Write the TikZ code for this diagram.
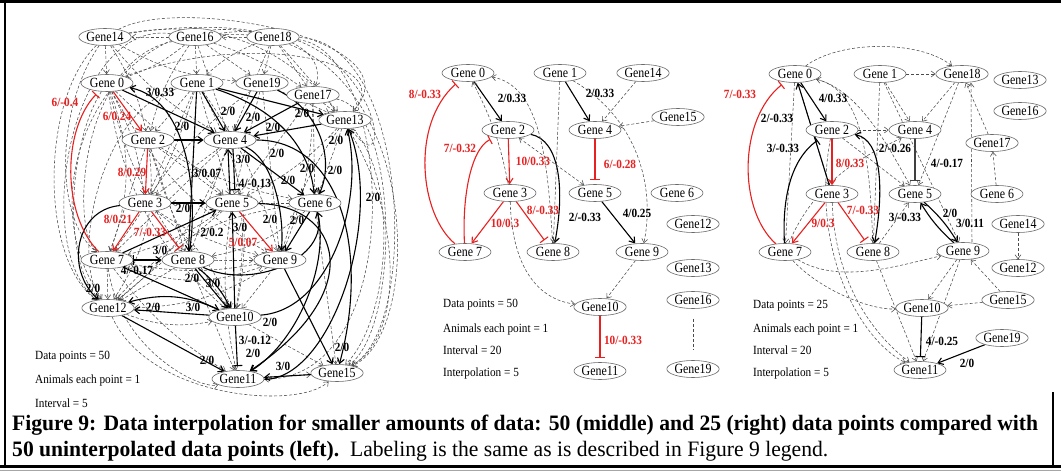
\documentclass[tikz,border=0pt]{standalone}
\usepackage{fontspec}
\setmainfont{Liberation Serif}
\newfontfamily\narrowserif[FakeStretch=0.9]{Liberation Serif}
\newfontfamily\genefont[FakeStretch=0.85]{Liberation Serif}
\usetikzlibrary{shapes.geometric,arrows.meta}
\definecolor{edgered}{RGB}{232,32,32}
\definecolor{ringgray}{RGB}{105,105,105}
\definecolor{dashgray}{RGB}{75,75,75}
\pgfdeclarelayer{bg}
\pgfdeclarelayer{edges}
\pgfsetlayers{bg,edges,main}
\newsavebox\caplinebox
\newdimen\capwd
\newcounter{lblc}
% gene node: name, x, y, text
\newcommand\gn[4]{\node[gene] (#1) at (#2,#3) {#4};}
% edge weight labels (black / red)
\newcommand\elab[3]{\stepcounter{lblc}\node[lbl] (lab\arabic{lblc}) at (#1,#2) {#3};}
\newcommand\rlab[3]{\stepcounter{lblc}\node[lbl,text=edgered] (lab\arabic{lblc}) at (#1,#2) {#3};}
\newcommand\captext{Figure 9: Data interpolation for smaller amounts of data: 50 (middle) and 25 (right) data points compared with}
\begin{document}
\sbox\caplinebox{\fontsize{22}{26}\selectfont\bfseries\captext}%
\capwd=\wd\caplinebox
\pgfmathsetmacro\capsx{1026/\the\capwd}%
\begin{tikzpicture}[x=1pt,y=-1pt,
  gene/.style={ellipse,draw=ringgray,fill=white,line width=0.6pt,minimum width=52pt,minimum height=17pt,inner sep=0pt,font=\genefont\fontsize{14}{15}\selectfont},
  act/.style={draw=black,line width=1.1pt,-{Straight Barb[length=5pt,width=7pt]}},
  act2/.style={draw=black,line width=1.1pt,{Straight Barb[length=5pt,width=7pt]}-{Straight Barb[length=5pt,width=7pt]}},
  baract/.style={draw=black,line width=1.1pt,{Bar[width=10pt]}-{Straight Barb[length=5pt,width=7pt]}},
  inh/.style={draw=black,line width=1.1pt,-{Bar[width=10pt]},shorten >=4pt},
  ract/.style={draw=edgered,line width=1.1pt,-{Straight Barb[length=5pt,width=7pt]}},
  rinh/.style={draw=edgered,line width=1.1pt,-{Bar[width=10pt]},shorten >=4pt},
  dsh/.style={draw=dashgray,line width=0.55pt,dash pattern=on 3pt off 2pt,-{Straight Barb[length=4pt,width=6pt]}},
  dsh2/.style={draw=dashgray,line width=0.55pt,dash pattern=on 3pt off 2pt,{Straight Barb[length=4pt,width=6pt]}-{Straight Barb[length=4pt,width=6pt]}},
  lbl/.style={font=\narrowserif\fontsize{12.5}{13}\selectfont\bfseries,inner sep=0pt},
  legend/.style={font=\narrowserif\fontsize{12.5}{13}\selectfont,anchor=west,inner sep=0pt}]

\useasboundingbox (0,0) rectangle (1061,473);
\begin{pgfonlayer}{bg}
\fill[white] (0,0) rectangle (1061,473);
\end{pgfonlayer}

% frame
\draw[line width=3pt] (0,2) -- (1061,2);
\draw[line width=1.2pt] (5,2) -- (5,466);
\draw[line width=1.2pt] (1053,392) -- (1053,466);
\draw[line width=3pt] (0,466) -- (1061,466);
\draw[line width=1pt,black!35] (0,470.5) -- (1061,470.5);

% ---------------- left network ----------------
\gn{L14}{105}{37}{Gene14}
\gn{L16}{195}{37}{Gene16}
\gn{L18}{273}{37}{Gene18}
\gn{L0}{107}{83}{Gene 0}
\gn{L1}{197}{83}{Gene 1}
\gn{L19}{262}{83}{Gene19}
\gn{L17}{313}{95}{Gene17}
\gn{L13}{345}{120}{Gene13}
\gn{L2}{148}{140}{Gene 2}
\gn{L4}{230}{140}{Gene 4}
\gn{L3}{145}{203}{Gene 3}
\gn{L5}{232}{203}{Gene 5}
\gn{L6}{315}{203}{Gene 6}
\gn{L7}{107}{260}{Gene 7}
\gn{L8}{188}{260}{Gene 8}
\gn{L9}{280}{260}{Gene 9}
\gn{L12}{108}{308}{Gene12}
\gn{L10}{235}{317}{Gene10}
\gn{L11}{238}{379}{Gene11}
\gn{L15}{337}{373}{Gene15}

\begin{pgfonlayer}{edges}
\foreach \a/\b/\c in {L14/L0/0, L16/L14/0, L16/L0/10, L16/L1/0, L18/L16/0, L18/L19/0, L18/L17/0,
  L14/L2/10, L16/L2/-10, L16/L4/0, L14/L4/-10, L18/L1/-10, L18/L4/0, L14/L19/-12, L16/L19/0,
  L16/L17/8, L18/L13/0, L0/L3/10, L0/L7/20, L0/L5/0, L0/L8/-10, L1/L2/0, L1/L3/0, L1/L5/0,
  L1/L7/10, L2/L7/0, L2/L5/0, L2/L8/0, L2/L6/-10, L2/L12/20, L2/L10/-10, L4/L3/0, L4/L7/0,
  L4/L8/0, L4/L12/15, L5/L3/0, L5/L7/10, L5/L12/0, L5/L11/-10, L6/L5/0, L6/L8/15, L6/L15/0,
  L7/L12/0, L7/L9/-20, L7/L11/-10, L8/L9/0, L8/L12/0, L8/L11/0, L9/L10/0, L9/L12/15, L9/L7/10,
  L10/L15/0, L11/L15/0, L12/L10/-15, L13/L6/0, L13/L9/-10, L17/L13/0, L17/L6/0, L17/L5/0,
  L19/L5/0, L19/L13/0, L19/L9/0, L3/L9/-10, L3/L10/15, L4/L10/10, L0/L10/-20, L1/L10/20,
  L6/L12/-20, L13/L5/10, L17/L9/10, L19/L3/-10, L0/L9/-15, L1/L9/10}
  {\draw[dsh] (\a) to[bend left=\c] (\b);}
% long dashed arcs round the outside
\draw[dsh] (L14) .. controls (180,-5) and (420,40) .. (L13);
\draw[dsh] (L16) .. controls (420,20) and (430,330) .. (L15);
\draw[dsh] (L14) .. controls (380,-10) and (440,320) .. (L15);
\draw[dsh] (L18) .. controls (410,40) and (420,330) .. (L15);
\draw[dsh] (L17) .. controls (400,110) and (400,330) .. (L15);
\draw[dsh] (L13) .. controls (400,180) and (390,320) .. (L15);
\draw[dsh] (L18) .. controls (395,50) and (410,380) .. (L11);
\draw[dsh] (L16) .. controls (380,10) and (400,200) .. (L13);
\draw[dsh] (L14) .. controls (250,15) and (330,40) .. (L17);
\draw[dsh] (L0) .. controls (250,30) and (400,60) .. (L13);
\draw[dsh] (L14) .. controls (40,100) and (40,260) .. (L12);
\draw[dsh] (L16) .. controls (70,20) and (30,250) .. (L12);
\draw[dsh] (L18) .. controls (120,5) and (20,180) .. (L12);
\draw[dsh] (L14) .. controls (55,110) and (55,220) .. (L7);
\draw[dsh] (L0) .. controls (70,140) and (60,260) .. (L12);
\draw[dsh] (L1) .. controls (100,110) and (70,260) .. (L12);
\draw[dsh] (L16) .. controls (80,60) and (70,230) .. (L7);
\draw[dsh] (L12) .. controls (150,400) and (300,410) .. (L15);
\draw[dsh] (L7) .. controls (120,350) and (200,390) .. (L11);

% solid regulations
\draw[act] (L8) .. controls (198,200) and (190,100) .. (L0);
\draw[act] (L0) -- (L4);
\draw[act] (L1) -- (L4);
\draw[act] (L19) -- (L4);
\draw[act] (L17) -- (L4);
\draw[act] (L1) -- (L13);
\draw[act] (L13) -- (L4);
\draw[act] (L1) .. controls (280,110) and (310,150) .. (L6);
\draw[act] (L19) .. controls (320,110) and (335,160) .. (L6);
\draw[act] (L4) -- (L6);
\draw[act] (L4) .. controls (275,160) and (285,220) .. (L9);
\draw[act] ([xshift=-2pt]L5.north) -- ([xshift=-2pt]L4.south);
\draw[inh] ([xshift=3pt]L4.south) -- ([xshift=3pt]L5.north);
\draw[act] (L1) -- (L8);
\draw[act] (L2) -- (L4);
\draw[act] (L3) -- (L5);
\draw[act] (L7) -- (L5);
\draw[baract] (L7) -- (L8);
\draw[act] (L3) .. controls (75,210) and (65,270) .. (L12);
\draw[act] (L10) -- (L12);
\draw[act] (L10) to[bend right=20] (L12);
\draw[act] (L12) -- (L11);
\draw[inh] (L10) -- (L11);
\draw[act] (L8) -- (L10);
\draw[act] (L8) to[bend left=12] (L10);
\draw[act] (L7) -- (L10);
\draw[act] (L9) -- (L15);
\draw[act] (L15) -- (L11);
\draw[act] (L10) .. controls (330,310) and (365,200) .. (L13);
\draw[act] (L11) .. controls (330,380) and (385,220) .. (L13);
\draw[act] (L5) .. controls (340,205) and (370,290) .. (L11);
\draw[act] (L6) .. controls (330,260) and (300,340) .. (L11);
\draw[act] (L4) .. controls (340,140) and (370,250) .. (L15);
\draw[act] (L6) -- (L9);
\draw[act] (L10) -- (L5);
\draw[act] (L8) .. controls (250,290) and (330,260) .. (L6);
\draw[rinh] (L7) .. controls (62,215) and (62,130) .. (L0);
\draw[ract] (L0) -- (L2);
\draw[ract] (L2) -- (L3);
\draw[ract] (L3) -- (L7);
\draw[rinh] (L3) -- (L8);
\draw[ract] (L5) -- (L9);
\end{pgfonlayer}

\rlab{65}{102}{6/-0.4}
\rlab{117}{116}{6/0.24}
\rlab{132}{172}{8/0.29}
\rlab{118}{219}{8/0.21}
\rlab{150}{232}{7/-0.33}
\rlab{243}{242}{5/0.07}
\elab{160}{92}{3/0.33}
\elab{182}{126}{2/0}
\elab{228}{111}{2/0}
\elab{253}{117}{2/0}
\elab{273}{127}{2/0}
\elab{302}{113}{2/0}
\elab{336}{140}{2/0}
\elab{243}{159}{3/0}
\elab{207}{173}{3/0.07}
\elab{255}{183}{4/-0.13}
\elab{277}{153}{2/0}
\elab{307}{168}{2/0}
\elab{335}{170}{2/0}
\elab{288}{180}{2/0}
\elab{373}{197}{2/0}
\elab{183}{208}{2/0}
\elab{270}{219}{2/0}
\elab{297}{220}{2/0}
\elab{240}{227}{3/0}
\elab{212}{232}{2/0.2}
\elab{160}{250}{3/0}
\elab{137}{270}{4/-0.17}
\elab{192}{278}{2/0}
\elab{213}{283}{3/0}
\elab{93}{288}{2/0}
\elab{153}{307}{2/0}
\elab{193}{307}{3/0}
\elab{270}{322}{2/0}
\elab{255}{340}{3/-0.12}
\elab{253}{353}{2/0}
\elab{342}{347}{2/0}
\elab{207}{360}{2/0}
\elab{283}{366}{3/0}

\node[legend] (lgA1) at (35,357) {Data points = 50};
\node[legend] (lgA2) at (35,380) {Animals each point = 1};
\node[legend] (lgA3) at (35,403) {Interval = 5};

% ---------------- middle network ----------------
\gn{M0}{468}{73}{Gene 0}
\gn{M1}{560}{73}{Gene 1}
\gn{M14}{643}{73}{Gene14}
\gn{M2}{508}{130}{Gene 2}
\gn{M4}{595}{130}{Gene 4}
\gn{M15}{678}{117}{Gene15}
\gn{M3}{510}{193}{Gene 3}
\gn{M5}{595}{193}{Gene 5}
\gn{M6}{677}{193}{Gene 6}
\gn{M12}{693}{224}{Gene12}
\gn{M7}{465}{252}{Gene 7}
\gn{M8}{553}{252}{Gene 8}
\gn{M9}{642}{252}{Gene 9}
\gn{M13}{693}{268}{Gene13}
\gn{M10}{600}{307}{Gene10}
\gn{M16}{693}{300}{Gene16}
\gn{M11}{600}{371}{Gene11}
\gn{M19}{693}{369}{Gene19}

\begin{pgfonlayer}{edges}
\draw[act] (M0) -- (M2);
\draw[act] (M1) -- (M4);
\draw[dsh] (M14) -- (M4);
\draw[dsh] (M15) -- (M4);
\draw[rinh] (M4) -- (M5);
\draw[ract] (M2) -- (M3);
\draw[rinh] (M7) .. controls (420,215) and (410,125) .. (M0);
\draw[rinh] (M7) .. controls (462,200) and (470,150) .. (M2);
\draw[ract] (M3) -- (M7);
\draw[rinh] (M3) -- (M8);
\draw[dsh] (M3) to[bend right=8] (M0);
\draw[act] (M2) .. controls (560,140) and (565,190) .. (M8);
\draw[dsh2] (M2) -- (M5);
\draw[dsh] (M8) .. controls (548,160) and (540,85) .. (M0);
\draw[dsh] (M1) -- (M8);
\draw[dsh] (M3) .. controls (512,270) and (540,300) .. (M10);
\draw[act] (M5) -- (M9);
\draw[dsh] (M1) .. controls (640,120) and (655,190) .. (M9);
\draw[dsh] (M9) -- (M10);
\draw[rinh] (M10) -- (M11);
\draw[draw=dashgray,line width=0.55pt,dash pattern=on 3pt off 2pt,shorten <=10pt,shorten >=11pt] (M16) -- (M19);
\end{pgfonlayer}

\rlab{425}{94}{8/-0.33}
\elab{512}{98}{2/0.33}
\elab{600}{93}{2/0.33}
\rlab{460}{148}{7/-0.32}
\rlab{533}{161}{10/0.33}
\rlab{620}{164}{6/-0.28}
\rlab{543}{210}{8/-0.33}
\elab{585}{217}{2/-0.33}
\elab{637}{213}{4/0.25}
\rlab{505}{223}{10/0.3}
\rlab{623}{340}{10/-0.33}

\node[legend] (lgB1) at (443,305) {Data points = 50};
\node[legend] (lgB2) at (443,329) {Animals each point = 1};
\node[legend] (lgB3) at (443,350) {Interval = 20};
\node[legend] (lgB4) at (443,373) {Interpolation = 5};

% ---------------- right network ----------------
\gn{R0}{795}{74}{Gene 0}
\gn{R1}{880}{74}{Gene 1}
\gn{R18}{962}{74}{Gene18}
\gn{R13}{1020}{80}{Gene13}
\gn{R16}{1020}{111}{Gene16}
\gn{R2}{832}{130}{Gene 2}
\gn{R4}{915}{130}{Gene 4}
\gn{R17}{992}{143}{Gene17}
\gn{R3}{832}{194}{Gene 3}
\gn{R5}{915}{194}{Gene 5}
\gn{R6}{997}{194}{Gene 6}
\gn{R14}{1018}{224}{Gene14}
\gn{R7}{785}{252}{Gene 7}
\gn{R8}{873}{252}{Gene 8}
\gn{R9}{963}{251}{Gene 9}
\gn{R12}{1018}{268}{Gene12}
\gn{R15}{1008}{300}{Gene15}
\gn{R10}{922}{308}{Gene10}
\gn{R19}{1002}{338}{Gene19}
\gn{R11}{920}{370}{Gene11}

\begin{pgfonlayer}{edges}
\draw[dsh] (R0) .. controls (840,40) and (920,40) .. (R18);
\draw[dsh] (R1) -- (R18);
\draw[dsh] (R1) -- (R4);
\draw[dsh] (R1) -- (R9);
\draw[dsh] (R18) -- (R4);
\draw[dsh] (R18) -- (R5);
\draw[dsh] ([xshift=9pt]R9.north) -- ([xshift=9pt]R18.south);
\draw[dsh] (R17) -- (R18);
\draw[dsh] (R6) -- (R17);
\draw[dsh] (R14) -- (R12);
\draw[dsh] (R0) -- (R3);
\draw[dsh] (R0) -- (R7);
\draw[dsh] (R0) .. controls (860,90) and (890,150) .. (R5);
\draw[dsh] (R8) .. controls (870,150) and (860,90) .. (R0);
\draw[dsh] (R2) -- (R4);
\draw[dsh] (R7) .. controls (820,170) and (880,150) .. (R4);
\draw[dsh] (R2) -- (R5);
\draw[dsh] (R1) -- (R8);
\draw[dsh] (R7) .. controls (840,285) and (900,265) .. (R9);
\draw[dsh] (R7) .. controls (820,290) and (870,310) .. (R10);
\draw[dsh] (R8) -- (R11);
\draw[dsh] (R8) -- (R5);
\draw[dsh] (R9) -- (R10);
\draw[dsh] (R9) -- (R11);
\draw[dsh] (R15) -- (R10);
\draw[dsh] (R15) -- (R9);
\draw[dsh] (R3) .. controls (835,290) and (880,340) .. (R11);
\draw[dsh] (R2) .. controls (810,250) and (860,340) .. (R11);
\draw[act] (R0) -- (R2);
\draw[ract] (R2) -- (R3);
\draw[rinh] (R7) .. controls (738,210) and (738,120) .. (R0);
\draw[ract] (R3) -- (R7);
\draw[rinh] (R3) -- (R8);
\draw[act] (R3) -- (R0);
\draw[inh] (R7) .. controls (782,200) and (790,160) .. (R2);
\draw[act2] (R2) .. controls (882,140) and (884,190) .. (R8);
\draw[inh,draw=black!75] (R4) -- (R5);
\draw[act] (R9) to[bend left=8] (R5);
\draw[act] (R5) to[bend left=8] (R9);
\draw[inh] (R10) -- (R11);
\draw[act] (R19) -- (R11);
\end{pgfonlayer}

\rlab{740}{94}{7/-0.33}
\elab{833}{98}{4/0.33}
\elab{777}{118}{2/-0.33}
\elab{783}{148}{3/-0.33}
\rlab{850}{163}{8/0.33}
\elab{895}{148}{2/-0.26}
\elab{947}{163}{4/-0.17}
\rlab{863}{210}{7/-0.33}
\elab{905}{217}{3/-0.33}
\elab{950}{213}{2/0}
\elab{970}{223}{3/0.11}
\rlab{823}{223}{9/0.3}
\elab{942}{341}{4/-0.25}
\elab{967}{363}{2/0}

\node[legend] (lgC1) at (753,306) {Data points = 25};
\node[legend] (lgC2) at (753,329) {Animals each point = 1};
\node[legend] (lgC3) at (753,350) {Interval = 20};
\node[legend] (lgC4) at (753,373) {Interpolation = 5};

% ---------------- caption ----------------
\node[anchor=base west,inner sep=0pt] (capA) at (12,430) {\scalebox{\capsx}[1]{\usebox\caplinebox}};
\node[anchor=base west,inner sep=0pt] (capB) at (12,456) {\scalebox{\capsx}[1]{\fontsize{22}{26}\selectfont\textbf{50 uninterpolated data points (left).}\ \ Labeling is the same as is described in Figure 9 legend.}};
\end{tikzpicture}
\end{document}
